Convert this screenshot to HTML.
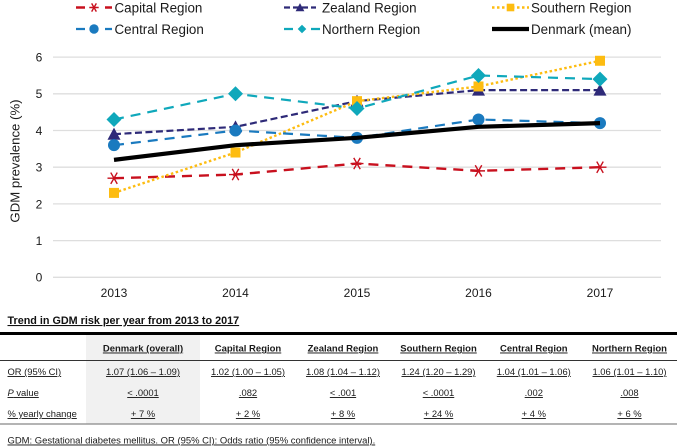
<!DOCTYPE html>
<html>
<head>
<meta charset="utf-8">
<style>
html,body{margin:0;padding:0;background:#fff;}
body{width:677px;height:448px;overflow:hidden;position:relative;font-family:"Liberation Sans",Arial,sans-serif;}
svg{position:absolute;left:0;top:0;}
text{font-family:"Liberation Sans",Arial,sans-serif;}
</style>
</head>
<body>
<svg id="chart" width="677" height="448" viewBox="0 0 677 448" xmlns="http://www.w3.org/2000/svg"></svg>
<script>
var years = ['2013','2014','2015','2016','2017'];
var yTicks = [0,1,2,3,4,5,6];
var capitalValues = [2.7,2.8,3.1,2.9,3.0];
var zealandValues = [3.9,4.1,4.8,5.1,5.1];
var southernValues = [2.3,3.4,4.8,5.2,5.9];
var centralValues = [3.6,4.0,3.8,4.3,4.2];
var northernValues = [4.3,5.0,4.6,5.5,5.4];
var denmarkValues = [3.2,3.6,3.8,4.1,4.2];
var tableColumns = ['Denmark (overall)','Capital Region','Zealand Region','Southern Region','Central Region','Northern Region'];
var orValues = ['1.07 (1.06 – 1.09)','1.02 (1.00 – 1.05)','1.08 (1.04 – 1.12)','1.24 (1.20 – 1.29)','1.04 (1.01 – 1.06)','1.06 (1.01 – 1.10)'];
var pValues = ['< .0001','.082','< .001','< .0001','.002','.008'];
var changeValues = ['+ 7 %','+ 2 %','+ 8 %','+ 24 %','+ 4 %','+ 6 %'];

var svg = document.getElementById('chart');
var NS = 'http://www.w3.org/2000/svg';
function mk(tag, attrs, parent) {
  var e = document.createElementNS(NS, tag);
  for (var k in attrs) e.setAttribute(k, attrs[k]);
  (parent || svg).appendChild(e);
  return e;
}
function xScale(i) { return 114 + i * 121.5; }
function yScale(v) { return 277.3 - v * 36.7; }
function txt(str, x, y, size, color, anchor, weight, parent) {
  var t = mk('text', {x:x, y:y, 'font-size':size, fill:color, 'text-anchor':anchor || 'start'}, parent);
  if (weight) t.setAttribute('font-weight', weight);
  t.textContent = str;
  return t;
}

/* gridlines and y ticks */
yTicks.forEach(function (v) {
  var g = mk('line', {x1:53, x2:661, y1:yScale(v), y2:yScale(v), stroke:'#dedede', 'stroke-width':1.3});
  
  
  var t = txt(String(v), 39, yScale(v) + 4.4, 12, '#1a1a1a', 'middle');
  
  
});
years.forEach(function (y, i) {
  var t = txt(y, xScale(i), 297, 12, '#1a1a1a', 'middle');
  
  
});
var yTitle = txt('GDM prevalence (%)', 0, 0, 13.2, '#1a1a1a', 'middle');
yTitle.setAttribute('transform', 'translate(19.5,161) rotate(-90)');



/* markers */
function marker(type, x, y, color, s, parent) {
  if (type === 'star') {
    var d = '';
    [[1,0],[0.5,0.87],[-0.5,0.87]].forEach(function (a) {
      d += 'M' + (x - a[0]*s) + ' ' + (y - a[1]*s) + 'L' + (x + a[0]*s) + ' ' + (y + a[1]*s);
    });
    return mk('path', {d:d, stroke:color, 'stroke-width':1.4, fill:'none'}, parent);
  }
  if (type === 'triangle') {
    return mk('path', {d:'M' + x + ' ' + (y - s) + 'L' + (x + s) + ' ' + (y + s*0.85) + 'L' + (x - s) + ' ' + (y + s*0.85) + 'Z', fill:color}, parent);
  }
  if (type === 'square') {
    return mk('rect', {x:x - s, y:y - s, width:2*s, height:2*s, fill:color}, parent);
  }
  if (type === 'circle') {
    return mk('circle', {cx:x, cy:y, r:s, fill:color}, parent);
  }
  if (type === 'diamond') {
    return mk('path', {d:'M' + x + ' ' + (y - s) + 'L' + (x + s) + ' ' + y + 'L' + x + ' ' + (y + s) + 'L' + (x - s) + ' ' + y + 'Z', fill:color}, parent);
  }
}

var seriesList = [
  {name:'capital', label:'Capital Region', values:capitalValues, color:'#c8101e', dash:'10 7', width:2.4, type:'star', size:6.5, lsize:4.7, lx:76, llen:36, ldash:'9 20', tx:114.5, ly:7.5},
  {name:'central', label:'Central Region', values:centralValues, color:'#1a7abf', dash:'10 7', width:2.2, type:'circle', size:6, lsize:4.7, lx:76, llen:36, ldash:'9 20', tx:114.5, ly:29},
  {name:'zealand', label:'Zealand Region', values:zealandValues, color:'#2e2a78', dash:'7 3.5', width:2.2, type:'triangle', size:6.5, lsize:4.4, lx:284, llen:32, ldash:'6 3', tx:322, ly:7.5},
  {name:'northern', label:'Northern Region', values:northernValues, color:'#0fa8bb', dash:'10 7', width:2.2, type:'diamond', size:7.5, lsize:4.3, lx:284, llen:36, ldash:'9 18', tx:322, ly:29},
  {name:'southern', label:'Southern Region', values:southernValues, color:'#fdbc11', dash:'2.5 2.5', width:2.4, type:'square', size:5, lsize:3.8, lx:492, llen:37, ldash:'2.5 2.5', tx:531, ly:7.5},
  {name:'denmark', label:'Denmark (mean)', values:denmarkValues, color:'#000000', dash:'', width:4.2, type:'', size:0, lsize:0, lx:492, llen:37, ldash:'', tx:531, ly:29}
];

var drawOrder = ['capital','zealand','southern','central','northern','denmark'];
drawOrder.forEach(function (n) {
  var s = seriesList.filter(function (q) { return q.name === n; })[0];
  var g = mk('g', {});
  
  
  var pts = s.values.map(function (v, i) { return xScale(i) + ',' + yScale(v); }).join(' ');
  var line = mk('polyline', {points:pts, fill:'none', stroke:s.color, 'stroke-width':s.width}, g);
  if (s.dash) line.setAttribute('stroke-dasharray', s.dash);
  
  
  if (s.type) {
    s.values.forEach(function (v, i) {
      var m = marker(s.type, xScale(i), yScale(v), s.color, s.size, g);
      
      
    });
  }
});

/* legend */
seriesList.forEach(function (s) {
  var g = mk('g', {});
  
  
  var l = mk('line', {x1:s.lx, x2:s.lx + s.llen, y1:s.ly, y2:s.ly, stroke:s.color, 'stroke-width':s.width}, g);
  if (s.ldash) l.setAttribute('stroke-dasharray', s.ldash);
  if (s.type) marker(s.type, s.lx + s.llen / 2, s.ly, s.color, s.lsize, g);
  txt(s.label, s.tx, s.ly + 4.8, 13.4, '#1a1a1a', 'start', null, g);
});

/* table */
var tableTitle = txt('Trend in GDM risk per year from 2013 to 2017', 7.5, 324, 10.8, '#111', 'start', 'bold');
tableTitle.setAttribute('text-decoration', 'underline');



var shade = mk('rect', {x:86, y:335, width:114, height:89, fill:'#f1f1f1'});



var topRule = mk('line', {x1:0, x2:677, y1:333.5, y2:333.5, stroke:'#000', 'stroke-width':3});


var headRule = mk('line', {x1:0, x2:677, y1:360.5, y2:360.5, stroke:'#333', 'stroke-width':1});


var botRule = mk('line', {x1:0, x2:677, y1:424, y2:424, stroke:'#888', 'stroke-width':1.2});



var colX = [143, 248, 343, 438.5, 533.8, 629.5];
function cell(str, x, y, size, anchor, weight, name) {
  var t = txt(str, x, y, size, '#1a1a1a', anchor, weight);
  t.setAttribute('text-decoration', 'underline');
  
  
  return t;
}
tableColumns.forEach(function (c, i) {
  cell(c, colX[i], 351.5, 9.5, 'middle', 'bold', 'table-header-' + i);
  cell(orValues[i], colX[i], 375, 9.4, 'middle', null, 'or-value-' + i);
  cell(pValues[i], colX[i], 396, 9.4, 'middle', null, 'p-value-' + i);
  cell(changeValues[i], colX[i], 417, 9.4, 'middle', null, 'yearly-change-' + i);
});
cell('OR (95% CI)', 7.5, 375, 9.4, 'start', null, 'row-label-or');
var pl = cell('', 7.5, 396, 9.4, 'start', null, 'row-label-p');
var pi = mk('tspan', {'font-style':'italic'}, pl);
pi.textContent = 'P';
var pr = mk('tspan', {}, pl);
pr.textContent = ' value';
cell('% yearly change', 7.5, 417, 9.4, 'start', null, 'row-label-change');
cell('GDM: Gestational diabetes mellitus. OR (95% CI): Odds ratio (95% confidence interval).', 7.5, 443.5, 9.45, 'start', null, 'table-footnote');
</script>
</body>
</html>
